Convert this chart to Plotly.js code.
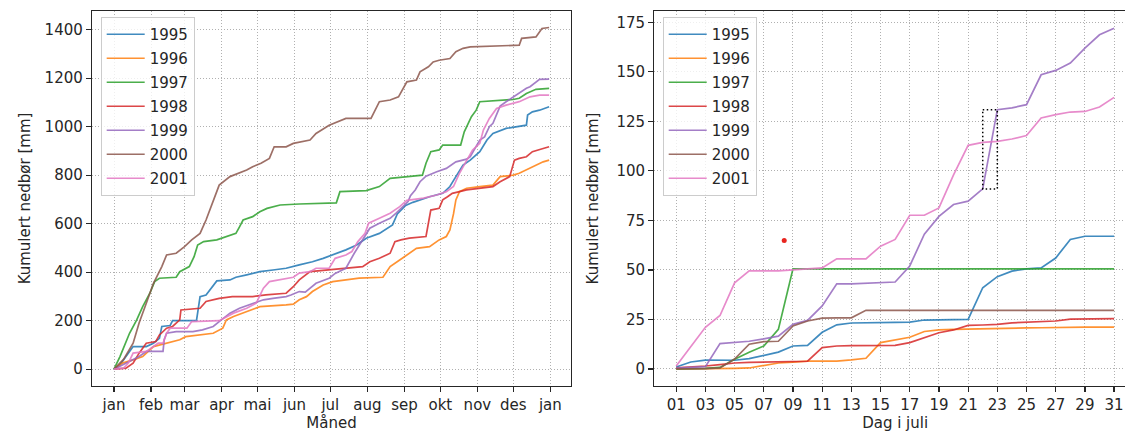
<!DOCTYPE html>
<html>
<head>
<meta charset="utf-8">
<script src="https://cdn.plot.ly/plotly-3.0.1.min.js"></script>
<style>
html,body{margin:0;padding:0;overflow:hidden;background:#fff;}
#chart{width:1140px;height:445px;}
</style>
</head>
<body>
<div id="chart"></div>
<script>
// ---------- data ----------
const years = ["1995","1996","1997","1998","1999","2000","2001"];
const colors = ["#1f77b4","#ff7f0e","#2ca02c","#d62728","#9467bd","#8c564b","#e377c2"];

const monthStart = [0,31,59,90,120,151,181,212,243,273,304,334,365];
const monthNames = ["jan","feb","mar","apr","mai","jun","jul","aug","sep","okt","nov","des","jan"];

// Left: cumulative precipitation through the year (day of year, mm)
const d1995 = [0,5,10,16,27,33,38,40,47,49,69,72,77,81,86,97,102,111,122,133,144,155,166,175,183,194,203,211,222,233,237,244,250,256,264,275,281,286,292,298,306,312,317,328,339,345,346,350,356,364];
const v1995 = [0,18,52,93,93,107,127,176,180,200,200,299,306,334,364,368,379,389,402,409,416,430,443,457,471,492,512,540,560,595,640,675,688,698,711,725,753,794,842,862,897,945,972,993,1000,1006,1048,1061,1068,1082];

const d1996 = [0,7,16,24,33,44,55,60,72,83,91,94,100,111,122,144,150,155,161,166,175,183,194,205,225,231,239,245,253,264,272,278,281,284,286,289,295,306,317,323,334,339,348,353,359,364];
const v1996 = [0,25,38,52,93,107,121,134,141,148,169,203,217,237,258,265,268,286,299,320,347,361,368,375,379,423,450,471,498,505,533,547,574,640,698,732,746,753,759,794,800,808,828,842,855,862];

const d1997 = [0,5,13,19,24,30,34,38,52,55,63,67,70,75,86,94,102,105,108,116,122,128,139,155,180,186,189,211,222,231,250,258,261,265,272,275,290,293,299,303,306,334,339,345,353,364];
const v1997 = [0,52,148,203,258,313,361,375,379,402,423,464,512,526,533,546,560,587,615,629,649,663,677,681,684,686,732,736,753,787,796,800,849,897,904,924,924,979,1041,1068,1103,1112,1117,1137,1154,1158];

const d1998 = [0,10,16,21,27,35,38,44,49,55,56,72,77,88,99,116,127,144,150,155,164,180,194,208,214,222,231,235,240,247,261,265,272,275,279,283,295,306,317,323,331,335,339,345,350,359,364];
const v1998 = [0,4,25,66,107,114,141,169,176,203,244,251,279,292,299,299,306,313,340,368,402,409,416,423,443,457,478,526,533,540,547,656,663,698,711,725,739,746,753,773,794,862,869,876,897,910,917];

const d1999 = [0,16,21,27,41,42,44,52,66,74,83,88,97,105,116,125,133,144,148,155,160,164,169,180,185,191,194,201,208,214,222,231,236,242,246,248,252,256,261,270,278,286,295,298,303,306,310,314,317,323,328,334,339,345,348,352,356,364];
const v1999 = [0,38,52,73,73,121,148,155,155,162,176,196,231,251,272,286,292,299,306,320,318,334,354,375,395,409,416,478,533,581,602,622,643,670,691,715,739,773,796,814,828,855,866,876,917,945,958,1000,1014,1085,1103,1123,1137,1158,1165,1181,1195,1196];

const d2000 = [0,8,16,21,28,33,40,44,52,59,65,72,77,83,88,97,111,116,123,130,134,144,150,164,169,180,194,215,220,222,231,238,245,253,256,263,267,272,281,286,292,298,339,341,353,358,364];
const v2000 = [0,40,107,190,285,354,423,471,478,505,533,560,615,698,759,794,821,835,849,869,917,917,931,945,972,1006,1034,1034,1082,1103,1110,1123,1185,1192,1226,1247,1267,1274,1281,1309,1323,1329,1336,1364,1370,1405,1409];

const d2001 = [0,8,12,16,27,33,37,41,44,47,61,65,88,100,111,119,125,130,141,150,155,164,169,180,185,194,199,204,210,213,222,231,239,245,259,270,278,284,289,295,300,306,309,314,320,328,339,348,356,364];
const v2001 = [0,4,25,66,73,93,107,107,148,169,169,196,200,231,251,272,334,361,371,379,396,402,416,416,457,471,485,526,560,602,622,643,670,696,705,718,732,753,808,862,904,931,986,1034,1075,1089,1103,1123,1130,1130];

// Right: cumulative precipitation in July (day of month, mm)
const julyDays = [1,2,3,4,5,6,7,8,9,10,11,12,13,14,15,16,17,18,19,20,21,22,23,24,25,26,27,28,29,30,31];
const jul1995 = [1,3.5,4.5,4.5,4.4,5.2,7.0,8.5,11.6,11.9,18.5,22.3,23.2,23.4,23.5,23.5,23.6,24.7,24.8,24.9,25,41,46.6,49.4,50.5,51,56,65.4,67,67,67];
const jul1996 = [0,0,0,0.2,0.3,0.5,1.9,3.0,3.5,4,4,4,4.6,5.4,13.3,14.5,16,18.9,19.7,20,20.2,20.2,20.3,20.5,20.7,20.8,21,21.1,21.1,21.1,21.1];
const jul1997 = [0,0,0.3,0.8,4.9,8.4,11.6,20,50.5,50.5,50.5,50.5,50.5,50.5,50.5,50.5,50.5,50.5,50.5,50.5,50.5,50.5,50.5,50.5,50.5,50.5,50.5,50.5,50.5,50.5,50.5];
const jul1998 = [0.6,1,1.5,2.2,3,3.3,3.5,3.6,3.7,3.9,10.8,11.6,11.8,11.9,11.9,11.9,13.3,16,18.3,19.7,22,22.2,22.5,23.3,23.5,23.8,24.2,25.2,25.2,25.3,25.4];
const jul1999 = [0.4,0.8,1.2,12.8,13.3,14,15.2,16.6,22.5,24.5,31.8,43,43,43.2,43.5,43.9,52,68,77,83,84.7,90.9,130.9,131.8,133.4,148.5,150.7,154.4,162,168.7,172];
const jul2000 = [0,0,0.2,0.5,5,12.5,13.8,14,21.7,24.2,25.7,25.8,25.8,29.6,29.6,29.6,29.6,29.6,29.6,29.6,29.6,29.6,29.6,29.6,29.6,29.6,29.6,29.6,29.6,29.6,29.6];
const jul2001 = [1.5,11,21,27,43.5,49.5,49.5,49.5,50,50.5,51,55.6,55.6,55.6,62,65.4,77.6,77.6,81.3,98,112.9,114.4,114.9,116.1,117.8,126.7,128.4,129.7,130,132.2,137.1];

// single highlighted observation
const markDay = [8.4];
const markVal = [64.8];

// ---------- traces ----------
const leftD = [d1995,d1996,d1997,d1998,d1999,d2000,d2001];
const leftV = [v1995,v1996,v1997,v1998,v1999,v2000,v2001];
const rightV = [jul1995,jul1996,jul1997,jul1998,jul1999,jul2000,jul2001];

const data = [];
years.forEach((y,i)=>{
  data.push({type:'scatter',mode:'lines',x:leftD[i],y:leftV[i],name:y,
    line:{color:colors[i],width:1.7},opacity:0.85,
    xaxis:'x',yaxis:'y',legend:'legend',legendgroup:'L'+y,hoverinfo:'skip'});
});
years.forEach((y,i)=>{
  data.push({type:'scatter',mode:'lines',x:julyDays,y:rightV[i],name:y,
    line:{color:colors[i],width:1.7},opacity:0.85,
    xaxis:'x2',yaxis:'y2',legend:'legend2',legendgroup:'R'+y,hoverinfo:'skip'});
});
// dotted box around the 1999 jump (day 22 -> 23)
const i22 = julyDays.indexOf(22), i23 = julyDays.indexOf(23);
const bx = [julyDays[i22],julyDays[i23],julyDays[i23],julyDays[i22],julyDays[i22]];
const by = [jul1999[i23],jul1999[i23],jul1999[i22],jul1999[i22],jul1999[i23]];
data.push({type:'scatter',mode:'lines',x:bx,y:by,showlegend:false,
  line:{color:'#000',width:1.5,dash:'1.5px,2.5px'},xaxis:'x2',yaxis:'y2',hoverinfo:'skip'});
data.push({type:'scatter',mode:'markers',x:markDay,y:markVal,showlegend:false,
  marker:{color:'#e8251f',size:5},xaxis:'x2',yaxis:'y2',hoverinfo:'skip'});

// ---------- layout ----------
const FONT = 'DejaVu Sans, sans-serif';
const axisCommon = {
  showgrid:true, gridcolor:'#b0b0b0', griddash:'1px,2px', gridwidth:1,
  showline:true, linecolor:'#262626', linewidth:1.2, mirror:true,
  ticks:'outside', ticklen:5, tickwidth:1.2, tickcolor:'#262626',
  zeroline:false, tickfont:{family:FONT,size:15,color:'#262626'}
};
const W = 1140, H = 445, ML = 92, MR = 4, MT = 11, MB = H-386;
const plotW = W-ML-MR, plotH = H-MT-MB;
const legendCommon = {
  font:{family:FONT,size:15,color:'#262626'}, bgcolor:'rgba(255,255,255,0.8)',
  bordercolor:'#cccccc', borderwidth:1, xanchor:'left', yanchor:'top',
  tracegroupgap:1.5, itemwidth:38
};
const layout = {
  width:W, height:H,
  margin:{l:ML,r:MR,t:MT,b:MB,pad:0},
  paper_bgcolor:'#fff', plot_bgcolor:'#fff',
  font:{family:FONT,size:15,color:'#262626'},
  xaxis: Object.assign({}, axisCommon, {
    domain:[0,(571-ML)/plotW], anchor:'y', range:[-18.4,382.3],
    tickmode:'array', tickvals:monthStart, ticktext:monthNames,
    title:{text:'Måned', font:{family:FONT,size:15,color:'#262626'}, standoff:4}
  }),
  yaxis: Object.assign({}, axisCommon, {
    anchor:'x', range:[-69.5,1477],
    tickmode:'array', tickvals:[0,200,400,600,800,1000,1200,1400],
    title:{text:'Kumulert nedbør [mm]', font:{family:FONT,size:15,color:'#262626'}, standoff:10}
  }),
  xaxis2: Object.assign({}, axisCommon, {
    domain:[(654.3-ML)/plotW,1], anchor:'y2', range:[-0.5,32.5],
    tickmode:'array', tickvals:julyDays.filter(d=>d%2===1),
    ticktext:julyDays.filter(d=>d%2===1).map(d=>String(d).padStart(2,'0')),
    title:{text:'Dag i juli', font:{family:FONT,size:15,color:'#262626'}, standoff:4}
  }),
  yaxis2: Object.assign({}, axisCommon, {
    anchor:'x2', range:[-8.6,180.7],
    tickmode:'array', tickvals:[0,25,50,75,100,125,150,175],
    title:{text:'Kumulert nedbør [mm]', font:{family:FONT,size:15,color:'#262626'}, standoff:14}
  }),
  legend: Object.assign({}, legendCommon, {x:(100.7-ML)/plotW, y:1-(17-MT)/plotH}),
  legend2: Object.assign({}, legendCommon, {x:(662.7-ML)/plotW, y:1-(17-MT)/plotH}),
  showlegend:true
};
Plotly.newPlot('chart', data, layout, {displayModeBar:false, staticPlot:true});
</script>
</body>
</html>
